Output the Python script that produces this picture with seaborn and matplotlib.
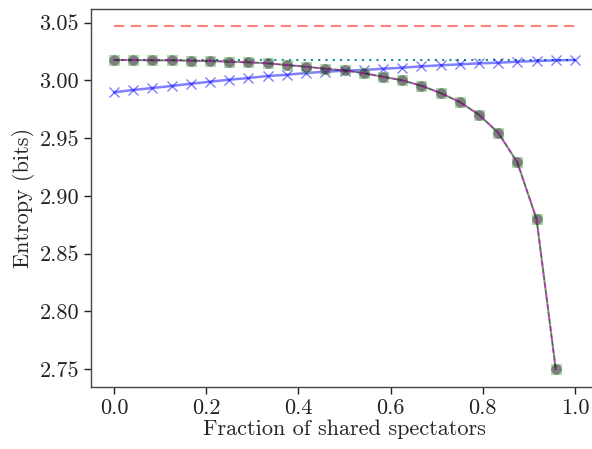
import numpy as np
import pandas as pd
import matplotlib
matplotlib.use("Agg")
import matplotlib.pyplot as plt
import seaborn as sns

# ---- data ----
frac = [i / 24 for i in range(25)]
mixed_entropy = [2.9897, 2.9917, 2.9934, 2.9952, 2.9971, 2.9989, 3.0006, 3.0021,
                 3.0038, 3.0049, 3.0064, 3.0075, 3.0084, 3.0090, 3.0101, 3.0110,
                 3.0122, 3.0131, 3.0139, 3.0148, 3.0153, 3.0162, 3.0168, 3.0174, 3.0177]
shared_entropy = [3.0177, 3.0177, 3.0174, 3.0174, 3.0171, 3.0168, 3.0162, 3.0157,
                  3.0148, 3.0133, 3.0119, 3.0101, 3.0087, 3.0062, 3.0032, 3.0001,
                  2.9954, 2.9891, 2.9813, 2.9703, 2.9547, 2.9290, 2.8799, 2.7497, np.nan]
upper_x = [0.0, 1.0]
upper_bound = [3.0474, 3.0474]
base_x = [0.0, 1.0]
base_entropy = [3.0177, 3.0177]

xlabel = "Fraction of shared spectators"
ylabel = "Entropy (bits)"
xticks = [0.0, 0.2, 0.4, 0.6, 0.8, 1.0]
yticks = [2.75, 2.80, 2.85, 2.90, 2.95, 3.00, 3.05]

sns.set_theme(style="ticks")
plt.rcParams["font.family"] = ["cmr10", "DejaVu Serif"]
plt.rcParams["axes.formatter.use_mathtext"] = True
plt.rcParams["mathtext.fontset"] = "cm"

fig = plt.figure(figsize=(5.92, 4.49), dpi=100)
ax = fig.add_axes([91 / 592, 1 - 386.5 / 449, 507 / 592, 378 / 449])

sns.lineplot(x=upper_x, y=upper_bound, ax=ax, color="red", alpha=0.5,
             linestyle=(0, (5, 3)), linewidth=1.5)
sns.lineplot(x=base_x, y=base_entropy, ax=ax, color="teal", alpha=0.9,
             linestyle=(0, (1, 2.5)), linewidth=1.5)
sns.lineplot(x=frac, y=mixed_entropy, ax=ax, color="blue", alpha=0.5,
             linewidth=1.8, marker="x", markersize=6.5, markeredgewidth=1.0,
             markeredgecolor="blue")
sns.lineplot(x=frac, y=shared_entropy, ax=ax, color="darkgreen", alpha=0.5,
             linestyle="--", linewidth=1.0, marker="s", markersize=7.5,
             markerfacecolor="#a8a8a8", markeredgecolor="#66cc66",
             markeredgewidth=0.8)
sns.lineplot(x=frac, y=shared_entropy, ax=ax, color="black", alpha=0.4,
             linewidth=1.5, marker="o", markersize=7.5, markeredgewidth=0)
sns.lineplot(x=frac, y=shared_entropy, ax=ax, color="magenta", alpha=0.45,
             linestyle=(2, (3, 3)), linewidth=1.3)

ax.set_xlim(-0.05, 1.05)
ax.set_ylim(2.7348, 3.0623)
ax.set_xticks(xticks)
ax.set_yticks(yticks)
ax.set_xticklabels([f"{t:.1f}" for t in xticks])
ax.set_yticklabels([f"{t:.2f}" for t in yticks])
ax.tick_params(labelsize=16, length=5, width=1, colors="#222222")
ax.set_xlabel(xlabel, fontsize=16, labelpad=1)
ax.set_ylabel(ylabel, fontsize=16, labelpad=3)
for s in ax.spines.values():
    s.set_color("#444444")
    s.set_linewidth(1)
    s.set_visible(True)

fig.savefig("out.png", dpi=100)
